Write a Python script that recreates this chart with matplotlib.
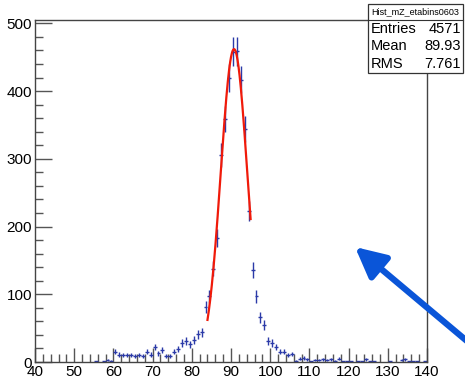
import matplotlib.pyplot as plt
import numpy as np

plt.rcParams['font.family'] = ['Liberation Sans', 'DejaVu Sans']

# histogram: 100 bins of 1 GeV from 40 to 140
bin_lo = np.arange(40, 140)
counts = [0, 0, 0, 0, 0, 0, 0, 0, 0, 0,            # 40-49
          0, 0, 0, 0, 0, 1, 0, 1, 3, 2,            # 50-59
          15, 11, 10, 10, 10, 9, 10, 9, 15, 11,    # 60-69
          22, 13, 18, 9, 9, 15, 19, 28, 31, 26,    # 70-79
          32, 41, 44, 81, 97, 138, 183, 306, 359, 419,   # 80-89
          458, 459, 417, 344, 223, 136, 97, 66, 54, 31,  # 90-99
          28, 22, 15, 15, 10, 12, 2, 5, 6, 4,      # 100-109
          1, 3, 3, 4, 3, 4, 2, 5, 1, 1,            # 110-119
          1, 0, 1, 1, 4, 1, 1, 0, 0, 0,            # 120-129
          1, 0, 0, 3, 4, 1, 1, 1, 0, 1]            # 130-139

# gaussian fit parameters and fit range
fit_const, fit_mean, fit_sigma = 462.0, 90.77, 3.38
fit_lo, fit_hi = 84.0, 95.0

stats_name = "Hist_mZ_etabins0603"
stats_rows = [("Entries", "4571"), ("Mean", "89.93"), ("RMS", "7.761")]

fig = plt.figure(figsize=(4.65, 3.81), dpi=100)
ax = fig.add_axes([35 / 465, 19 / 381, 392 / 465, 342 / 381])

counts = np.array(counts, dtype=float)
x = bin_lo + 0.5
m = counts > 0
ax.errorbar(x[m], counts[m], yerr=np.sqrt(counts[m]), xerr=0.5, fmt='none',
            ecolor='#2b3aa8', elinewidth=1.0, capsize=0)

xf = np.linspace(fit_lo, fit_hi, 200)
yf = fit_const * np.exp(-0.5 * ((xf - fit_mean) / fit_sigma) ** 2)
ax.plot(xf, yf, color='#f01a0a', lw=1.6)

ax.set_xlim(40, 140)
ax.set_ylim(0, 505)
ax.set_xticks(np.arange(40, 141, 10))
ax.set_xticks(np.arange(40, 141, 2), minor=True)
ax.set_yticks(np.arange(0, 501, 100))
ax.set_yticks(np.arange(0, 501, 20), minor=True)
ax.tick_params(which='both', direction='in', top=False, right=False,
               color='#555555', labelsize=11, pad=2)
ax.tick_params(which='major', axis='x', length=10, width=1)
ax.tick_params(which='minor', axis='x', length=6, width=1)
ax.tick_params(which='major', axis='y', length=12, width=1)
ax.tick_params(which='minor', axis='y', length=6, width=1)
for s in ax.spines.values():
    s.set_color('#444444')
    s.set_linewidth(1.0)

# stats box
fig.patches.append(plt.Rectangle((368 / 465, 1 - 73 / 381), 95 / 465, 69 / 381,
                                 transform=fig.transFigure, facecolor='white',
                                 edgecolor='#333333', lw=0.9, zorder=5))
fig.lines.append(plt.Line2D([368 / 465, 463 / 465], [1 - 20 / 381, 1 - 20 / 381],
                            transform=fig.transFigure, color='#333333', lw=0.8, zorder=6))
fig.text(371 / 465, 1 - 12 / 381, stats_name, fontsize=6.5, va='center', ha='left', zorder=7)
for i, (k, v) in enumerate(stats_rows):
    yy = 1 - (29 + 17.5 * i) / 381
    fig.text(371 / 465, yy, k, fontsize=10.5, va='center', ha='left', zorder=7)
    fig.text(461 / 465, yy, v, fontsize=10.5, va='center', ha='right', zorder=7)

# blue arrow
ax.annotate('', xy=(355 / 465, 1 - 247 / 381), xycoords='figure fraction',
            xytext=(480 / 465, 1 - 352 / 381), textcoords='figure fraction',
            arrowprops=dict(arrowstyle='-|>,head_length=1.3,head_width=0.65',
                            mutation_scale=14, shrinkA=0, shrinkB=0,
                            color='#0a55d8', lw=4.5), annotation_clip=False)

fig.savefig('out.png', dpi=100)
